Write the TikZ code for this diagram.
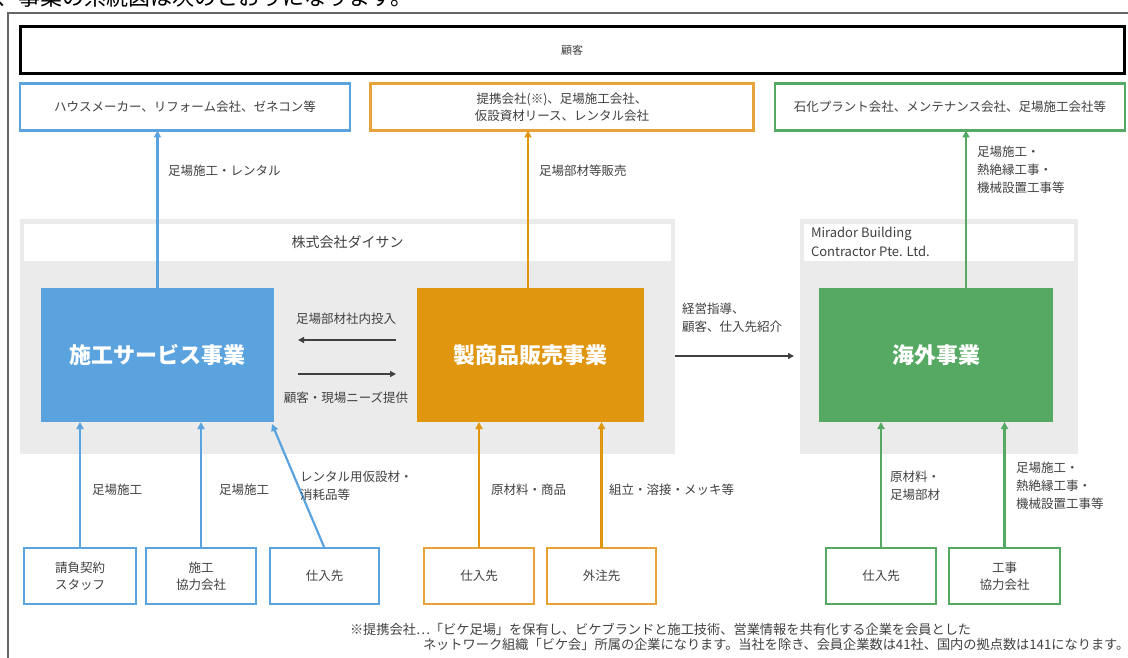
\documentclass[tikz,border=0pt]{standalone}
\usepackage{fontspec}
\setmainfont{Noto Sans CJK JP}
\usetikzlibrary{arrows.meta}
\definecolor{cblue}{HTML}{5BA3DF}
\definecolor{corange}{HTML}{E0960F}
\definecolor{corangeL}{HTML}{E8A23A}
\definecolor{cgreen}{HTML}{56A962}
\definecolor{cgray}{HTML}{EBEBEB}
\definecolor{ctext}{HTML}{404040}
\definecolor{cframe}{HTML}{666666}
\begin{document}
\begin{tikzpicture}[x=1pt,y=-1pt,
  every node/.style={inner sep=0pt, outer sep=0pt, font=\fontsize{12.5}{17}\selectfont, text=ctext},
  outbox/.style={draw=#1, line width=2.6pt, fill=white, align=center},
  mainbox/.style={fill=#1, text=white, font=\fontsize{22}{26}\selectfont\bfseries},
  region/.style={fill=cgray},
  band/.style={fill=white},
  upar/.style={draw=#1, line width=2.2pt, -{Triangle[length=7pt,width=7pt]}},
  grar/.style={draw=ctext, line width=1.3pt, -{Triangle[length=6pt,width=6pt]}},
  lbl/.style={align=left, anchor=west},
  lblm/.style={align=left, anchor=north west, font=\fontsize{12.5}{18}\selectfont}
]
\useasboundingbox (0,0) rectangle (1128,658);
% cut-off line above the frame
\node[anchor=base west, font=\fontsize{22}{22}\selectfont, text=black] (intro) at (-3,6) {、事業の系統図は次のとおりになります。};
\draw[cframe, line width=2pt] (8,660) -- (8,13) -- (1130,13);

% customer boxes
\node[draw=black, line width=3pt, fill=white, minimum width=1104pt, minimum height=47pt, font=\fontsize{11}{13}\selectfont] (kokyaku) at (572,50) {顧客};
\node[outbox=cblue, minimum width=330pt, minimum height=47pt] (tB) at (185,107) {ハウスメーカー、リフォーム会社、ゼネコン等};
\node[outbox=corangeL, minimum width=383pt, minimum height=47pt] (tO) at (562,107) {提携会社(※)、足場施工会社、\\仮設資材リース、レンタル会社};
\node[outbox=cgreen, minimum width=350pt, minimum height=47pt] (tG) at (950,107) {石化プラント会社、メンテナンス会社、足場施工会社等};

% company regions
\node[region, minimum width=655pt, minimum height=235pt] (daisan) at (347.5,336.5) {};
\node[band, minimum width=647pt, minimum height=37pt, font=\fontsize{14}{16}\selectfont] (daisanT) at (347.5,242.5) {株式会社ダイサン};
\node[region, minimum width=278pt, minimum height=235pt] (mirador) at (939,336.5) {};
\node[band, minimum width=270pt, minimum height=37pt] (miradorT) at (939,242.5) {};
\node[anchor=north west, align=left, font=\fontsize{13}{19}\selectfont] (miradorN) at (811,227) {Mirador Building\\Contractor Pte. Ltd.};

% business boxes
\node[mainbox=cblue, minimum width=233pt, minimum height=134pt] (mB) at (157.5,355) {施工サービス事業};
\node[mainbox=corange, minimum width=227pt, minimum height=134pt] (mO) at (530.5,355) {製商品販売事業};
\node[mainbox=cgreen, minimum width=234pt, minimum height=134pt] (mG) at (936,355) {海外事業};

% supplier boxes
\node[outbox=cblue, minimum width=112pt, minimum height=56pt] (b1) at (80,576) {請負契約\\スタッフ};
\node[outbox=cblue, minimum width=110pt, minimum height=56pt] (b2) at (201,576) {施工\\協力会社};
\node[outbox=cblue, minimum width=109pt, minimum height=56pt] (b3) at (324.5,576) {仕入先};
\node[outbox=corangeL, minimum width=110pt, minimum height=56pt] (o1) at (479,576) {仕入先};
\node[outbox=corangeL, minimum width=109pt, minimum height=56pt] (o2) at (601.5,576) {外注先};
\node[outbox=cgreen, minimum width=110pt, minimum height=56pt] (g1) at (881,576) {仕入先};
\node[outbox=cgreen, minimum width=111pt, minimum height=56pt] (g2) at (1004.5,576) {工事\\協力会社};

% helper coordinates
\coordinate (xO) at (528,0);
\coordinate (xG) at (966,0);
\coordinate (h1) at (0,340);
\coordinate (h2) at (0,374);
\coordinate (h3) at (0,356);

% upward arrows to customers
\draw[upar=cblue] (mB.north) -- (mB.north |- tB.south);
\draw[upar=corange] (mO.north -| xO) -- (tO.south -| xO);
\draw[upar=cgreen] (mG.north -| xG) -- (tG.south -| xG);
\node[lbl] (lB) at (168,171) {足場施工・レンタル};
\node[lbl] (lO) at (539,171) {足場部材等販売};
\node[lblm] (lG) at (977,146) {足場施工・\\熱絶縁工事・\\機械設置工事等};

% internal arrows
\draw[grar, shorten <=21pt, shorten >=24pt] (mO.west |- h1) -- (mB.east |- h1);
\draw[grar, shorten <=24pt, shorten >=21pt] (mB.east |- h2) -- (mO.west |- h2);
\draw[grar, shorten >=6pt] (daisan.east |- h3) -- (mirador.west |- h3);
\node (lH1) at (346,319) {足場部材社内投入};
\node (lH2) at (346,398) {顧客・現場ニーズ提供};
\node[lblm] (lH3) at (682,303) {経営指導、\\顧客、仕入先紹介};

% upward arrows from suppliers
\draw[upar=cblue] (b1.north) -- (b1.north |- mB.south);
\draw[upar=cblue] (b2.north) -- (b2.north |- mB.south);
\draw[upar=cblue] (b3.north) -- ([xshift=-2pt,yshift=-2pt]mB.south east);
\draw[upar=corange] (o1.north) -- (o1.north |- mO.south);
\draw[upar=corange] (o2.north) -- (o2.north |- mO.south);
\draw[upar=cgreen] (g1.north) -- (g1.north |- mG.south);
\draw[upar=cgreen] (g2.north) -- (g2.north |- mG.south);
\node[lbl] (lb1) at (92,490) {足場施工};
\node[lbl] (lb2) at (219,490) {足場施工};
\node[lblm] (lb3) at (300,471) {レンタル用仮設材・\\消耗品等};
\node[lbl] (lo1) at (491,490) {原材料・商品};
\node[lbl] (lo2) at (609,490) {組立・溶接・メッキ等};
\node[lblm] (lg1) at (890,471) {原材料・\\足場部材};
\node[lblm] (lg2) at (1016,462) {足場施工・\\熱絶縁工事・\\機械設置工事等};

% footnote
\node[anchor=north west, align=left, font=\fontsize{13.2}{15}\selectfont] (fn) at (350,623) {※提携会社…「ビケ足場」を保有し、ビケブランドと施工技術、営業情報を共有化する企業を会員とした\\\hspace*{73pt}ネットワーク組織「ビケ会」所属の企業になります。当社を除き、会員企業数は41社、国内の拠点数は141になります。};
\end{tikzpicture}
\end{document}
